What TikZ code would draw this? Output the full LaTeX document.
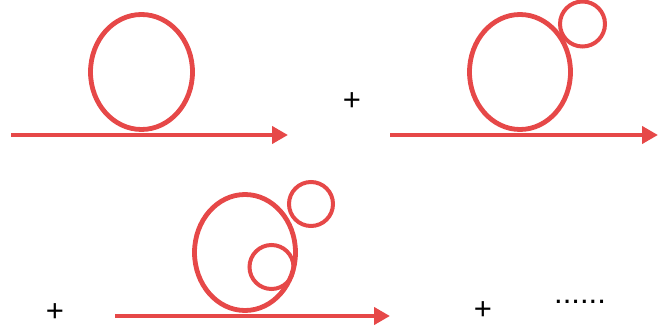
\documentclass[tikz,border=0pt]{standalone}
\usepackage{fontspec}
\setmainfont{Liberation Sans}
\usetikzlibrary{arrows.meta}
\definecolor{loopred}{RGB}{230,72,72}
\begin{document}
\begin{tikzpicture}[x=1pt,y=-1pt,
  loop/.style={draw=loopred,line width=4pt},
  bigloop/.style={draw=loopred,line width=4.8pt},
  prop/.style={draw=loopred,line width=4pt,-{Triangle[length=16pt,width=17pt]}},
  sym/.style={inner sep=0pt,font=\fontsize{31}{31}\selectfont}]
\useasboundingbox (0,0) rectangle (658,331);
% panel 1
\coordinate (a1) at (11,135);
\coordinate (b1) at (288,135);
\draw[prop] (a1) -- (b1);
\draw[bigloop] (141.5,72) ellipse [x radius=51, y radius=57.5];
% panel 2
\node[sym] (p1) at (352,102) {+};
\coordinate (a2) at (390,135);
\coordinate (b2) at (658,135);
\draw[prop] (a2) -- (b2);
\draw[bigloop] (520,72) ellipse [x radius=50.5, y radius=57.5];
\draw[loop] (582.5,24) circle [radius=22.5];
% panel 3
\node[sym] (p2) at (55,313) {+};
\coordinate (a3) at (115,316);
\coordinate (b3) at (390,316);
\draw[prop] (a3) -- (b3);
\draw[bigloop] (245,252.5) ellipse [x radius=50.5, y radius=58];
\draw[loop] (311,204) circle [radius=22];
\draw[loop] (271.5,267) circle [radius=22];
% panel 4
\node[sym] (p3) at (483,311) {+};
\node[sym,anchor=base west] (dots) at (554,303.5) {......};
\end{tikzpicture}
\end{document}
